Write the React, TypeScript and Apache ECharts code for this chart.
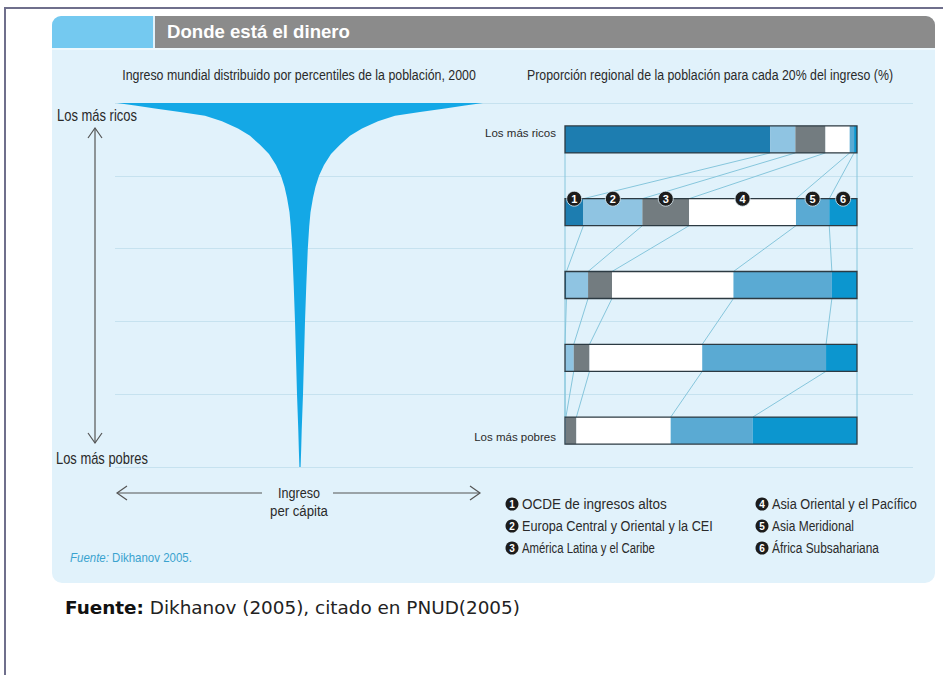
import React, { useEffect, useRef } from "react";
import * as echarts from "echarts";

// ---------- DATA ----------
// Left: world income by population percentile (relative per-capita income, half width of the "champagne glass")
const percentiles = [0, 5, 10, 20, 30, 40, 50, 60, 66, 70, 74, 77, 80, 83, 86, 88.5, 91, 93, 95, 96.5, 97.5, 98.5, 99.3, 100];
const incomeHalf = [0.6, 1.2, 1.7, 3.0, 4.0, 5.0, 6.3, 7.8, 9.2, 10.5, 13, 15.5, 19, 24, 31, 40, 50, 62, 78, 95, 120, 145, 165, 183];

// Right: regional share of population for each 20% of income
const quintiles = ["Los más ricos", "Segundo 20%", "Tercer 20%", "Cuarto 20%", "Los más pobres"];
const regions = [
  "OCDE de ingresos altos",
  "Europa Central y Oriental y la CEI",
  "América Latina y el Caribe",
  "Asia Oriental y el Pacífico",
  "Asia Meridional",
  "África Subsahariana",
];
const ocde = [70.3, 6.3, 0.5, 0, 0];
const europa = [8.6, 20.2, 7.4, 3.0, 0.3];
const americaLatina = [10.3, 16.0, 8.2, 5.4, 3.6];
const asiaOriental = [8.3, 36.6, 41.6, 38.6, 32.3];
const asiaMeridional = [1.5, 11.4, 33.7, 42.4, 28.1];
const africa = [1.0, 9.5, 8.6, 10.6, 35.7];
const regionValues = [ocde, europa, americaLatina, asiaOriental, asiaMeridional, africa];
const regionColors = ["#1d7db0", "#8fc4e2", "#737c80", "#ffffff", "#5aaad3", "#0c96cf"];

const SANS = '"Liberation Sans", Arial, sans-serif';
const BAR_H = 27;

let measureCtx: CanvasRenderingContext2D | null = null;
function measure(text: string, font: string) {
  if (!measureCtx) measureCtx = document.createElement("canvas").getContext("2d");
  if (!measureCtx) return text.length * 7;
  measureCtx.font = font;
  return measureCtx.measureText(text).width;
}

// condensed text: scaled horizontally to the width it has in the reference
function ctext(text: string, x: number, y: number, size: number, target: number, opts: any = {}) {
  const weight = opts.bold ? "bold " : "";
  const style = opts.italic ? "italic " : "";
  const font = `${style}${weight}${size}px ${SANS}`;
  const s = target / measure(text, font);
  return {
    type: "text",
    x,
    y,
    scaleX: s,
    z: 100,
    style: {
      text,
      fill: opts.fill || "#2a2a2a",
      font,
      align: opts.align || "left",
      verticalAlign: "middle",
    },
  };
}

export default function App() {
  const ref = useRef<HTMLDivElement>(null);

  useEffect(() => {
    if (!ref.current) return;
    const chart = echarts.init(ref.current, undefined, { renderer: "svg" });

    const cum = (row: number, k: number) => {
      let s = 0;
      for (let i = 0; i < k; i++) s += regionValues[i][row];
      return s;
    };
    const links: number[][] = [];
    for (let r = 0; r < quintiles.length - 1; r++) {
      for (let k = 0; k <= regions.length; k++) {
        links.push([cum(r, k), r, cum(r + 1, k)]);
      }
    }
    const markerRow = 1;
    const markers = regions.map((_, k) => [
      (cum(markerRow, k) + cum(markerRow, k + 1)) / 2,
      markerRow,
      k + 1,
    ]);

    const funnelData = percentiles.map((p, i) => [incomeHalf[i], p]);

    const legendWidths = [145, 191, 133, 145, 82, 107];
    const legendItems: any[] = [];
    regions.forEach((name, i) => {
      const col = i < 3 ? 0 : 1;
      const row = i % 3;
      const cx = col === 0 ? 512 : 762;
      const cy = 504 + row * 22;
      legendItems.push({ type: "circle", shape: { cx, cy, r: 6.5 }, style: { fill: "#1c1c1c" }, z: 100 });
      legendItems.push({
        type: "text", x: cx, y: cy + 0.5, z: 101,
        style: { text: String(i + 1), fill: "#fff", font: `bold 10px ${SANS}`, align: "center", verticalAlign: "middle" },
      });
      legendItems.push(ctext(name, cx + 10, cy, 15, legendWidths[i]));
    });

    const srcFontB = `bold 17px "DejaVu Sans", sans-serif`;
    const srcFontN = `17px "DejaVu Sans", sans-serif`;
    const srcW = measure("Fuente:", srcFontB) + measure(" Dikhanov (2005), citado en PNUD(2005)", srcFontN);
    const smallW = measure("Fuente:", `italic 12px ${SANS}`) + measure(" Dikhanov 2005.", `12px ${SANS}`);

    const arrow = { stroke: "#555", lineWidth: 1.2, fill: null };

    const option: any = {
      animation: false,
      backgroundColor: "#ffffff",
      graphic: [
        { type: "line", shape: { x1: 4, y1: 8, x2: 943, y2: 8 }, style: { stroke: "#6f6f8c", lineWidth: 2 }, z: -20 },
        { type: "line", shape: { x1: 5, y1: 8, x2: 5, y2: 675 }, style: { stroke: "#6f6f8c", lineWidth: 2 }, z: -20 },
        { type: "rect", shape: { x: 52, y: 16, width: 883, height: 567, r: 10 }, style: { fill: "#e1f2fb" }, z: -20 },
        { type: "rect", shape: { x: 52, y: 16, width: 101, height: 32, r: [9, 0, 0, 0] }, style: { fill: "#74c9f0" }, z: -19 },
        { type: "rect", shape: { x: 155, y: 16, width: 780, height: 32, r: [0, 9, 0, 0] }, style: { fill: "#8b8b8b" }, z: -19 },
        { type: "rect", shape: { x: 52, y: 48, width: 883, height: 2 }, style: { fill: "#eef8fd" }, z: -19 },
        ctext("Donde está el dinero", 167, 32, 18, 183, { bold: true, fill: "#ffffff" }),
        ctext("Ingreso mundial distribuido por percentiles de la población, 2000", 299, 75, 14, 354, { align: "center" }),
        ctext("Proporción regional de la población para cada 20% del ingreso (%)", 710, 75, 14, 366, { align: "center" }),
        ctext("Los más ricos", 57, 116, 16, 80),
        ctext("Los más pobres", 56, 458, 16, 92),
        { type: "line", shape: { x1: 95, y1: 128, x2: 95, y2: 443 }, style: arrow, z: 100 },
        { type: "polyline", shape: { points: [[88, 138], [95, 128], [102, 138]] }, style: arrow, z: 100 },
        { type: "polyline", shape: { points: [[88, 433], [95, 443], [102, 433]] }, style: arrow, z: 100 },
        { type: "line", shape: { x1: 117, y1: 493, x2: 262, y2: 493 }, style: arrow, z: 100 },
        { type: "polyline", shape: { points: [[127, 486], [117, 493], [127, 500]] }, style: arrow, z: 100 },
        { type: "line", shape: { x1: 333, y1: 493, x2: 480, y2: 493 }, style: arrow, z: 100 },
        { type: "polyline", shape: { points: [[470, 486], [480, 493], [470, 500]] }, style: arrow, z: 100 },
        ctext("Ingreso", 299, 493, 15, 42, { align: "center" }),
        ctext("per cápita", 299, 511, 15, 58, { align: "center" }),
        {
          type: "text", x: 70, y: 557, z: 100, scaleX: 122 / smallW,
          style: {
            text: "{i|Fuente:}{n| Dikhanov 2005.}",
            verticalAlign: "middle",
            rich: {
              i: { fill: "#3aa3cf", font: `italic 12px ${SANS}` },
              n: { fill: "#3aa3cf", font: `12px ${SANS}` },
            },
          },
        },
        {
          type: "text", x: 65, y: 608, z: 100, scaleX: 455 / srcW,
          style: {
            text: "{b|Fuente:}{n| Dikhanov (2005), citado en PNUD(2005)}",
            verticalAlign: "middle",
            rich: {
              b: { fill: "#111", font: srcFontB },
              n: { fill: "#222", font: srcFontN },
            },
          },
        },
        ...legendItems,
      ],
      grid: [
        { left: 115, right: 30, top: 103, bottom: 208, containLabel: false },
        { left: 565, right: 86, top: 103, bottom: 208, containLabel: false },
      ],
      xAxis: [
        { type: "value", gridIndex: 0, min: -185, max: 613, show: false },
        { type: "value", gridIndex: 1, min: 0, max: 100, show: false },
      ],
      yAxis: [
        {
          type: "value", gridIndex: 0, min: 0, max: 100, interval: 20,
          axisLine: { show: false }, axisTick: { show: false }, axisLabel: { show: false },
          splitLine: { show: true, lineStyle: { color: "#c6e2ef", width: 1 } },
        },
        {
          type: "category", gridIndex: 1, data: quintiles, inverse: true,
          axisLine: { show: false }, axisTick: { show: false }, splitLine: { show: false },
          axisLabel: {
            margin: 9,
            interval: 0,
            formatter: (v: string, idx: number) =>
              idx === 0 ? `{a|${v}}` : idx === quintiles.length - 1 ? `{b|${v}}` : "",
            rich: {
              a: { fontFamily: SANS, fontSize: 11.5, color: "#2a2a2a", padding: [0, 0, 12, 0] },
              b: { fontFamily: SANS, fontSize: 11.5, color: "#2a2a2a", padding: [13, 0, 0, 0] },
            },
          },
        },
      ],
      series: [
        {
          type: "custom",
          name: "Ingreso",
          xAxisIndex: 0,
          yAxisIndex: 0,
          data: funnelData,
          z: 3,
          renderItem: (params: any, api: any) => {
            if (params.dataIndex !== 0) return null;
            const right = funnelData.map((d) => api.coord([d[0], d[1]]));
            const left = funnelData.map((d) => api.coord([-d[0], d[1]])).reverse();
            return { type: "polygon", shape: { points: right.concat(left) }, style: { fill: "#14a8e6" } };
          },
        },
        {
          type: "custom",
          name: "links",
          xAxisIndex: 1,
          yAxisIndex: 1,
          data: links,
          z: 2,
          renderItem: (params: any, api: any) => {
            const p1 = api.coord([api.value(0), api.value(1)]);
            const p2 = api.coord([api.value(2), api.value(1) + 1]);
            return {
              type: "line",
              shape: { x1: p1[0], y1: p1[1] + BAR_H / 2, x2: p2[0], y2: p2[1] - BAR_H / 2 },
              style: { stroke: "#86c6dc", lineWidth: 1 },
            };
          },
        },
        ...regions.map((name, i) => ({
          type: "bar",
          name,
          xAxisIndex: 1,
          yAxisIndex: 1,
          stack: "total",
          barWidth: BAR_H,
          data: regionValues[i],
          itemStyle: { color: regionColors[i], borderWidth: 0 },
          z: 3,
        })),
        {
          type: "custom",
          name: "outline",
          xAxisIndex: 1,
          yAxisIndex: 1,
          data: quintiles.map((_, r) => [0, r, 100]),
          z: 4,
          renderItem: (params: any, api: any) => {
            const a = api.coord([api.value(0), api.value(1)]);
            const b = api.coord([api.value(2), api.value(1)]);
            return {
              type: "rect",
              shape: { x: a[0], y: a[1] - BAR_H / 2, width: b[0] - a[0], height: BAR_H },
              style: { fill: "none", stroke: "#2c3a42", lineWidth: 1.3 },
            };
          },
        },
        {
          type: "custom",
          name: "markers",
          xAxisIndex: 1,
          yAxisIndex: 1,
          data: markers,
          z: 5,
          renderItem: (params: any, api: any) => {
            const c = api.coord([api.value(0), api.value(1)]);
            const y = c[1] - BAR_H / 2;
            return {
              type: "group",
              children: [
                { type: "circle", shape: { cx: c[0], cy: y, r: 7.5 }, style: { fill: "#1c1c1c", stroke: "#e1f2fb", lineWidth: 0.8 } },
                {
                  type: "text", x: c[0], y: y + 0.5,
                  style: { text: String(api.value(2)), fill: "#fff", font: `bold 11px ${SANS}`, align: "center", verticalAlign: "middle" },
                },
              ],
            };
          },
        },
      ],
    };

    chart.setOption(option);
    return () => chart.dispose();
  }, []);

  return <div ref={ref} style={{ position: "fixed", left: 0, top: 0, width: 943, height: 675 }} />;
}
